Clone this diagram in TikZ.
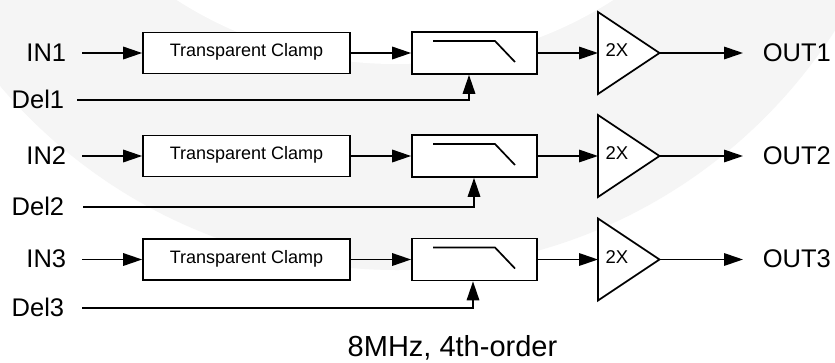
\documentclass[tikz,border=0pt]{standalone}
\usepackage{fontspec}
\setmainfont{Liberation Sans}
\usetikzlibrary{arrows.meta,calc}
\definecolor{wm}{RGB}{245,245,245}
\begin{document}
\begin{tikzpicture}[x=1pt,y=-1pt,
  line width=1.7pt,
  arr/.style={-{Triangle[length=19pt,width=12.5pt]}},
  lab/.style={font=\fontsize{25.5}{28}\selectfont, inner sep=0pt},
  clampbox/.style={draw, fill=white, minimum width=207pt, minimum height=41pt, inner sep=0pt,
    font=\fontsize{18}{20}\selectfont, text height=0.716em, text depth=0pt},
  filtbox/.style={draw, fill=white, minimum width=125pt, minimum height=42pt, inner sep=0pt},
  ampshape/.style={draw, fill=white, line join=miter},
  amptxt/.style={inner sep=0pt, font=\fontsize{18.5}{20}\selectfont, text height=0.716em, text depth=0pt},
  capt/.style={inner sep=0pt, font=\fontsize{29}{32}\selectfont}
]
\useasboundingbox (0,0) rectangle (835,362);
\begin{scope}
\clip (0,0) rectangle (835,362);
\fill[white] (0,0) rectangle (835,362);
\fill[wm] (397,-250) circle[radius=520pt];
\fill[white] (395,-340) circle[radius=404pt];
\end{scope}

\foreach \i/\r/\d/\ds/\off in {1/53/100/77/-5.5, 2/156/207/83/-0.5, 3/259.5/308/82/-1.5}{
  % labels
  \node[lab, anchor=base east] (in\i) at (67,\r+8) {IN\i};
  \node[lab, anchor=base east] (del\i) at (65,\d+8.5) {Del\i};
  \node[lab, anchor=base west] (out\i) at (762,\r+8) {OUT\i};
  % blocks
  \node[clampbox] (c\i) at (246.5,\r) {Transparent Clamp};
  \node[filtbox] (f\i) at (474.5,\r) {};
  \draw (433,\r-12) -- (495,\r-12) -- (515,\r+9);
  \draw[ampshape] (598,\r-41) -- (659.5,\r) -- (598,\r+41) -- cycle;
  \node[amptxt] (g\i) at (617,\r) {2X};
  \coordinate (ai\i) at (598,\r);
  \coordinate (ao\i) at (659.5,\r);
  \coordinate (is\i) at (82,\r);
  \coordinate (oe\i) at (743,\r);
  \coordinate (ds\i) at (\ds,\d);
  % connectors
  \draw[arr] (is\i) -- (c\i.west);
  \draw[arr] (c\i.east) -- (f\i.west);
  \draw[arr] (f\i.east) -- (ai\i);
  \draw[arr] (ao\i) -- (oe\i);
  \draw[arr] (ds\i) -| ([xshift=\off pt]f\i.south);
}
\node[capt, anchor=base] (cap) at (452.5,356.5) {8MHz, 4th-order};
\end{tikzpicture}
\end{document}
